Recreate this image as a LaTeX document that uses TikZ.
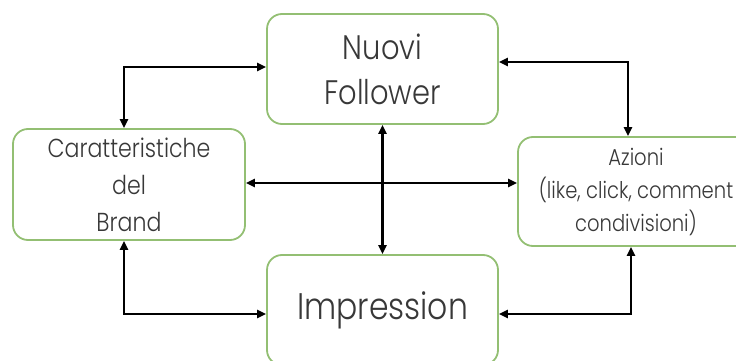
\documentclass[tikz,border=0pt]{standalone}
\usepackage{fontspec}
\setmainfont{Poppins}[UprightFont=* Light, FakeStretch=0.85]
\usetikzlibrary{arrows.meta}
\definecolor{boxgreen}{HTML}{93BF73}
\definecolor{txt}{HTML}{383838}
\tikzset{
  box/.style={draw=boxgreen, line width=1.8pt, rounded corners=15pt, text=txt, align=center, inner sep=0pt},
  link/.style={line width=2.2pt, {Triangle[length=9pt,width=8pt]}-{Triangle[length=9pt,width=8pt]}},
}
\begin{document}
\begin{tikzpicture}[x=1pt,y=-1pt]
\useasboundingbox (0,0) rectangle (736,361);
\begin{scope}
\clip (0,0) rectangle (736,361);
\node[box, minimum width=231pt, minimum height=110pt, font=\fontsize{34}{45}\selectfont] (nf) at (382.5,69) {Nuovi\\Follower};
\node[box, minimum width=232pt, minimum height=111pt, font=\fontsize{26}{37}\selectfont] (car) at (129,184.5) {Caratteristiche\\del\\Brand};
\node[box, minimum width=236pt, minimum height=109pt, font=\fontsize{23}{33}\selectfont] (az) at (636,191.5) {Azioni\\(like, click, comment\\condivisioni)};
\node[box, minimum width=231pt, minimum height=110pt, font=\fontsize{37}{45}\selectfont] (imp) at (382.5,310) {Impression};
\draw[link] ([xshift=-5pt]car.north) |- ([yshift=2pt]nf.west);
\draw[link] ([yshift=7pt]nf.east) -| ([xshift=-8pt]az.north);
\draw[link] ([yshift=1.5pt]car.east) -- ([yshift=1.5pt]car.east -| az.west);
\draw[link] (nf.south) -- (imp.north);
\draw[link] ([xshift=-5pt]car.south) |- ([yshift=-4pt]imp.west);
\draw[link] ([yshift=-4pt]imp.east) -| ([xshift=-5pt]az.south);
\end{scope}
\end{tikzpicture}
\end{document}
